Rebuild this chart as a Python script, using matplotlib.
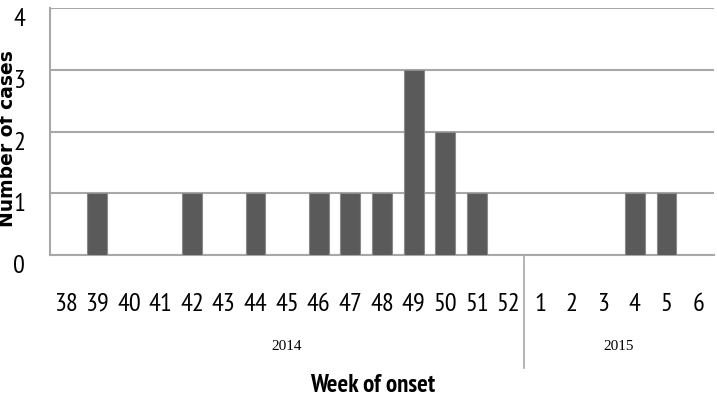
import numpy as np
import matplotlib
matplotlib.use("Agg")
import matplotlib.pyplot as plt
from matplotlib import transforms

weeks = ["38", "39", "40", "41", "42", "43", "44", "45", "46", "47", "48",
         "49", "50", "51", "52", "1", "2", "3", "4", "5", "6"]
cases = [0, 1, 0, 0, 1, 0, 1, 0, 1, 1, 1, 3, 2, 1, 0, 0, 0, 0, 1, 1, 0]
years = ["2014", "2015"]
year_spans = [(0, 14), (15, 20)]

narrow = "PT Sans Narrow"
grid_col = "#a8a8a8"

fig = plt.figure(figsize=(7.17, 4.03), dpi=100)
ax = fig.add_axes([0.0697, 0.367, 0.926, 0.613])

x = np.arange(len(weeks))
ax.bar(x, cases, width=0.63, color="#5a5a5a", edgecolor="#8a8a8a",
       linewidth=0.8, zorder=3)

ax.set_xlim(-0.5, len(weeks) - 0.5)
ax.set_ylim(0, 4)
ax.set_yticks([0, 1, 2, 3, 4])
ax.yaxis.grid(True, color=grid_col, linewidth=1.5, zorder=0)
ax.set_axisbelow(True)

for s in ["top", "right"]:
    ax.spines[s].set_visible(False)
for s in ["left", "bottom"]:
    ax.spines[s].set_color(grid_col)
    ax.spines[s].set_linewidth(1.5)

ax.set_xticks(x)
ax.set_xticklabels(weeks, fontfamily=narrow, fontsize=19)
ax.tick_params(axis="x", length=0, pad=27)
ax.set_yticklabels(["0", "1", "2", "3", "4"], fontfamily=narrow, fontsize=19,
                   va="top")
ax.tick_params(axis="y", length=0, pad=18)

# year groups below the week labels
trans = transforms.blended_transform_factory(ax.transData, ax.transAxes)
for yr, (a, b) in zip(years, year_spans):
    ax.text((a + b) / 2, -0.37, yr, transform=trans, ha="center", va="center",
            fontfamily="Liberation Serif", fontsize=11)
ax.plot([14.5, 14.5], [0, -0.457], transform=trans, color=grid_col,
        linewidth=1.2, clip_on=False)

ax.set_ylabel("Number of cases", fontsize=13.5, fontweight="bold",
              fontfamily="DejaVu Sans")
ax.yaxis.set_label_coords(-0.05, 0.47)
ax.set_xlabel("Week of onset", fontfamily=narrow, fontsize=18,
              fontweight="bold", va="center")
ax.xaxis.set_label_coords(0.486, -0.526)

fig.savefig("out.png", dpi=100)
